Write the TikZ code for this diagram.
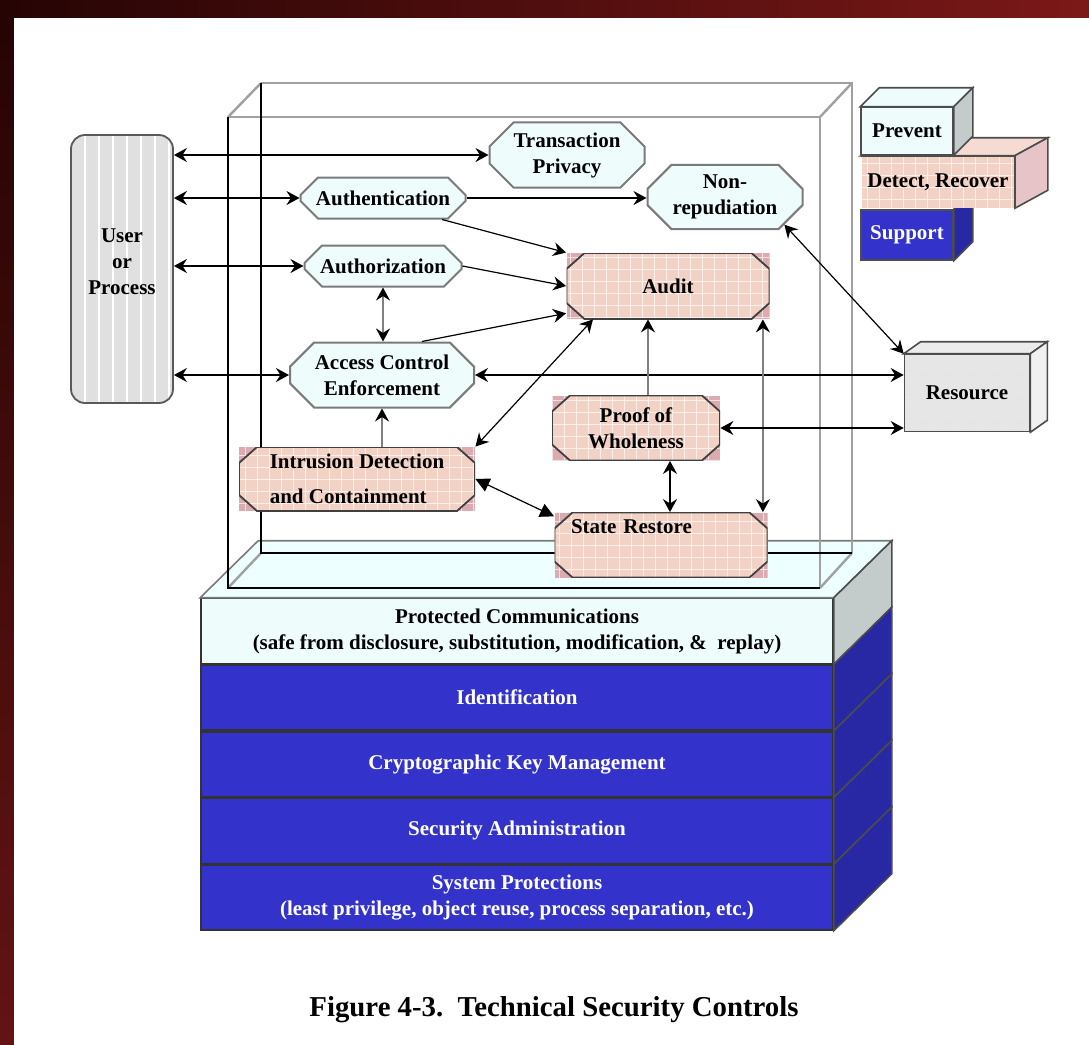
\documentclass[tikz,border=0pt]{standalone}
\usepackage{fontspec}
\setmainfont{Liberation Serif}
\usetikzlibrary{positioning,shapes.misc,arrows.meta}

\definecolor{prevfill}{HTML}{EEFCFC}
\definecolor{prevside}{HTML}{C3CBCB}
\definecolor{detfill}{HTML}{F3D2C6}
\definecolor{detcorner}{HTML}{DBABB0}
\definecolor{suppfill}{HTML}{3333CC}
\definecolor{suppside}{HTML}{2828A4}
\definecolor{resfill}{HTML}{E6E6E6}
\definecolor{userfill}{HTML}{E0E0E0}
\definecolor{edgegray}{HTML}{7A7A7A}
\definecolor{glassgray}{HTML}{A0A0A0}
\definecolor{frameA}{HTML}{260404}
\definecolor{frameB}{HTML}{7C1818}

\newcommand{\lab}{\fontsize{10.5}{13}\selectfont\bfseries}
% octagon inside a pink box
\newcommand{\octpath}{([xshift=9pt]path picture bounding box.north west)
  -- ([xshift=-9pt]path picture bounding box.north east)
  -- ([yshift=-8pt]path picture bounding box.north east)
  -- ([yshift=8pt]path picture bounding box.south east)
  -- ([xshift=-9pt]path picture bounding box.south east)
  -- ([xshift=9pt]path picture bounding box.south west)
  -- ([yshift=8pt]path picture bounding box.south west)
  -- ([yshift=-8pt]path picture bounding box.north west) -- cycle}

\tikzset{
  >={Stealth[length=6.5pt,width=7pt,inset=2.2pt,color=black]},
  ctrl/.style={chamfered rectangle, chamfered rectangle xsep=9pt,
    draw=edgegray, line width=1pt, fill=prevfill, align=center,
    font=\lab, inner sep=2pt},
  pinkgrid/.style={path picture={
      \fill[detcorner] (path picture bounding box.south west) rectangle (path picture bounding box.north east);
      \fill[detfill] \octpath;
      \draw[white, opacity=0.65, line width=0.5pt] (path picture bounding box.south west) grid[step=6pt] (path picture bounding box.north east);
      \draw[black!75, line width=0.9pt] \octpath;}},
  det/.style={rectangle, align=center, font=\lab, inner sep=2pt, pinkgrid},
  layer/.style={rectangle, draw=black!80, line width=0.8pt, minimum width=316pt,
    minimum height=32.5pt, align=center, font=\lab, inner sep=0pt},
  blue/.style={layer, fill=suppfill, text=white},
  legbox/.style={rectangle, draw=black!70, line width=0.8pt, font=\lab, inner sep=1pt},
  both/.style={<->, line width=0.9pt},
  one/.style={->, line width=0.9pt},
  slim/.style={line width=0.6pt},
  greyln/.style={draw=black!50}
}

\begin{document}
\begin{tikzpicture}[x=0.5pt,y=0.5pt]
\useasboundingbox (0,0) rectangle (1089,-1045);
% frame
\shade[left color=frameA, right color=frameB] (0,0) rectangle (1089,-18);
\shade[top color=frameA, bottom color=frameB!80!black] (0,-18) rectangle (14,-1045);
\fill[white] (14,-18) rectangle (1089,-1045);

% platform layers
\node[layer, fill=prevfill] (pc) at (517,-631) {Protected Communications\\(safe from disclosure, substitution, modification, \&\ \ replay)};
\node[blue, below=0pt of pc] (ident) {Identification};
\node[blue, below=0pt of ident] (ckm) {Cryptographic Key Management};
\node[blue, below=0pt of ckm] (sa) {Security Administration};
\node[blue, below=0pt of sa] (sp) {System Protections\\(least privilege, object reuse, process separation, etc.)};
\filldraw[fill=prevfill!70!cyan!20, draw=edgegray, line width=0.8pt] (pc.north west) -- ++(58,57) -- ([shift={(58,57)}]pc.north east) -- (pc.north east) -- cycle;
\filldraw[fill=prevside, draw=black!70, line width=0.8pt] (pc.north east) -- ++(58,57) -- ([shift={(58,57)}]pc.south east) -- (pc.south east) -- cycle;
\foreach \n in {ident,ckm,sa,sp}
  \filldraw[fill=suppside, draw=black!70, line width=0.8pt] (\n.north east) -- ++(58,57) -- ([shift={(58,57)}]\n.south east) -- (\n.south east) -- cycle;

% glass box
\draw[glassgray, line width=1.2pt] (261,-83) -- (852,-83) -- (852,-553);
\draw[glassgray, line width=1.2pt] (228,-117) -- (820,-117) -- (820,-588);
\draw[glassgray, line width=1.2pt] (228,-117) -- (261,-83) (820,-117) -- (852,-83) (820,-588) -- (852,-553) (228,-588) -- (261,-553);
\draw[black, line width=1pt] (261,-83) -- (261,-553) -- (852,-553);
\draw[black, line width=1pt] (228,-117) -- (228,-588) -- (820,-588);

% user
\node[rectangle, rounded corners=7pt, draw=black!65, line width=0.9pt, fill=userfill,
  minimum width=51pt, minimum height=134pt, align=center, font=\lab,
  path picture={\foreach \i in {1,...,7}
    \draw[white, line width=1pt] ([xshift=\i*7pt]path picture bounding box.south west) -- ([xshift=\i*7pt]path picture bounding box.north west);}]
  (user) at (122,-269) {User\\or\\Process\\[-6pt]\mbox{}};

% controls
\node[ctrl, minimum width=77.5pt, minimum height=30pt] (tp) at (567,-155) {Transaction\\Privacy};
\node[ctrl, minimum width=78.5pt, minimum height=20.5pt] (auth) at (383,-198) {Authentication};
\node[ctrl, minimum width=77.5pt, minimum height=31.5pt] (nr) at (725,-197) {Non-\\repudiation};
\node[ctrl, minimum width=78.5pt, minimum height=20.5pt, below=12.5pt of auth] (authz) {Authorization};
\node[det, minimum width=101.5pt, minimum height=33pt] (audit) at (668,-286) {Audit};
\node[ctrl, minimum width=92pt, minimum height=32.5pt] (ace) at (382,-375) {Access Control\\Enforcement};
\node[det, minimum width=118pt, minimum height=32pt, align=left] (idc) at (357,-479) {Intrusion Detection\\[4.5pt]and Containment};
\node[det, minimum width=84pt, minimum height=32.5pt] (pow) at (636,-428) {Proof of\\Wholeness};
\node[det, minimum width=106.5pt, minimum height=32.5pt, text width=90pt, align=left] (sr) at (661,-545) {State Restore\\[5pt]\mbox{}};

% resource
\node[legbox, fill=resfill, minimum width=62.5pt, minimum height=38.5pt,
  path picture={\draw[black!10, line width=0.4pt] (path picture bounding box.south west) grid[step=6pt] (path picture bounding box.north east);}]
  (res) at (967,-393) {Resource};
\filldraw[fill=resfill!80, draw=black!70, line width=0.8pt] (res.north west) -- ++(17,12) -- ([shift={(17,12)}]res.north east) -- (res.north east) -- cycle;
\filldraw[fill=resfill!60!white, draw=black!70, line width=0.8pt] (res.north east) -- ++(17,12) -- ([shift={(17,12)}]res.south east) -- (res.south east) -- cycle;

% connectors
\draw[both] (user.east |- tp.west) -- (tp.west);
\draw[both] (user.east |- auth.west) -- (auth.west);
\draw[both] (user.east |- authz.west) -- (authz.west);
\draw[both] (user.east |- ace.west) -- (ace.west);
\draw[one] (auth.east) -- (auth.east -| nr.west);
\draw[one, slim] (auth.-20) -- (audit.north west);
\draw[one, slim] (authz.east) -- (audit.west);
\draw[both, greyln] (authz.south) -- (authz.south |- ace.north);
\draw[one, slim] (ace.40) -- (audit.195);
\draw[both, slim] (audit.204) -- (idc.north east);
\draw[both] (ace.east) -- (ace.east -| res.west);
\draw[both, slim] (nr.-25) -- (res.north west);
\draw[one, greyln] (pow.70) -- (pow.70 |- audit.south);
\draw[both, greyln] ([xshift=-3.5pt]audit.south east) -- ([xshift=-3.5pt]audit.south east |- sr.north);
\draw[both] (pow.east) -- (pow.east -| res.west);
\draw[both] ([xshift=17pt]pow.south) -- ([xshift=17pt]pow.south |- sr.north);
\draw[{Triangle[length=7pt,width=7pt]}-{Triangle[length=7pt,width=7pt]}, slim] (idc.east) -- (sr.165);
\draw[one, greyln] (ace.south |- idc.north) -- (ace.south);

% legend
\node[legbox, fill=suppfill, text=white, minimum width=46pt, minimum height=25pt] (supp) at (907,-235) {Support};
\filldraw[fill=suppside, draw=black!70, line width=0.8pt] (supp.north east) -- ++(19,19) -- ([shift={(19,19)}]supp.south east) -- (supp.south east) -- cycle;
\node[legbox, draw=none, minimum width=76pt, minimum height=25.5pt,
  path picture={\fill[detfill] (path picture bounding box.south west) rectangle (path picture bounding box.north east);
    \draw[white, opacity=0.65, line width=0.5pt] (path picture bounding box.south west) grid[step=6pt] (path picture bounding box.north east);}]
  (detc) at (938,-182) {Detect, Recover};
\filldraw[fill=detfill!80!white, draw=black!70, line width=0.8pt] (detc.north west) -- ++(33,18) -- ([shift={(33,18)}]detc.north east) -- (detc.north east) -- cycle;
\filldraw[fill=detcorner!70!white, draw=black!70, line width=0.8pt] (detc.north east) -- ++(33,18) -- ([shift={(33,18)}]detc.south east) -- (detc.south east) -- cycle;
\draw[black!70, line width=0.8pt] (detc.north west) -- (detc.north east) -- (detc.south east);
\node[legbox, fill=prevfill, minimum width=46pt, minimum height=23.5pt] (prev) at (907,-131) {Prevent};
\filldraw[fill=prevfill, draw=black!70, line width=0.8pt] (prev.north west) -- ++(19,19) -- ([shift={(19,19)}]prev.north east) -- (prev.north east) -- cycle;
\filldraw[fill=prevside, draw=black!70, line width=0.8pt] (prev.north east) -- ++(19,19) -- ([shift={(19,19)}]prev.south east) -- (prev.south east) -- cycle;

% caption
\node[font=\fontsize{14.4}{16}\selectfont\bfseries] (cap) at (554,-1010) {Figure 4-3.\ \ Technical Security Controls};
\end{tikzpicture}
\end{document}
